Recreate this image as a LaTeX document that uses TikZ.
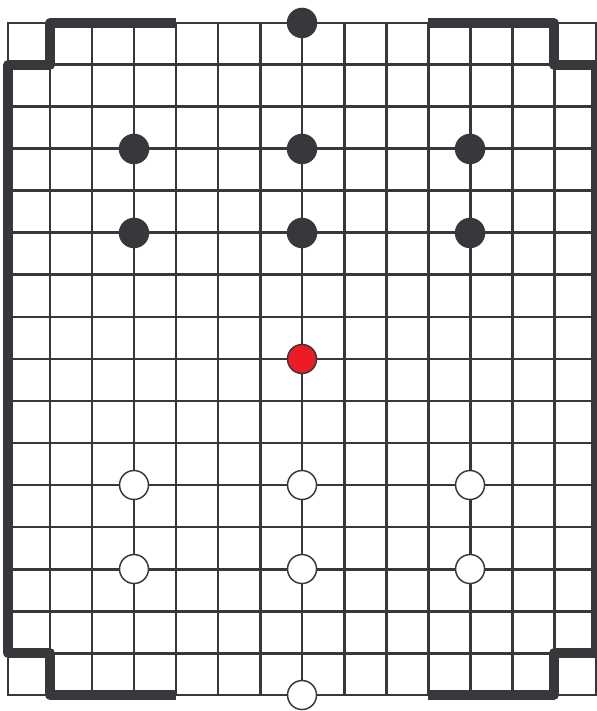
\documentclass[tikz,border=0pt]{standalone}
\definecolor{ink}{HTML}{38373C}
\definecolor{redstone}{HTML}{ED1C24}
\begin{document}
\begin{tikzpicture}[x=1cm,y=-1cm,
  gridline/.style={draw=ink,line width=2.0pt},
  edgeline/.style={draw=ink,line width=1.1pt},
  midline/.style={draw=ink,line width=1.5pt},
  wall/.style={draw=ink,line width=6.3pt,line join=round},
  stone/.style={circle,inner sep=0pt,minimum size=0.69cm,draw=ink,line width=1pt},
  blackstone/.style={stone,fill=ink},
  whitestone/.style={stone,fill=white},
  redst/.style={stone,fill=redstone}]
\useasboundingbox (-0.19,-0.546) rectangle (14.01,16.38);
% grid
\foreach \i in {1,...,6,8,9,...,13} \draw[gridline] (\i,0) -- (\i,16);
\draw[midline] (7,0) -- (7,16);
\foreach \j in {1,...,15} \draw[gridline] (0,\j) -- (14,\j);
\draw[edgeline] (0,0) rectangle (14,16);
% walls
\draw[wall] (4,0) -- (1,0) -- (1,1) -- (0,1) -- (0,15) -- (1,15) -- (1,16) -- (4,16);
\draw[wall] (10,0) -- (13,0) -- (13,1) -- (14,1) -- (14,15) -- (13,15) -- (13,16) -- (10,16);
% black stones
\node[blackstone] (b0) at (7,0) {};
\node[blackstone] (b1) at (3,3) {};
\node[blackstone] (b2) at (7,3) {};
\node[blackstone] (b3) at (11,3) {};
\node[blackstone] (b4) at (3,5) {};
\node[blackstone] (b5) at (7,5) {};
\node[blackstone] (b6) at (11,5) {};
% red stone
\node[redst] (r0) at (7,8) {};
% white stones
\node[whitestone] (w1) at (3,11) {};
\node[whitestone] (w2) at (7,11) {};
\node[whitestone] (w3) at (11,11) {};
\node[whitestone] (w4) at (3,13) {};
\node[whitestone] (w5) at (7,13) {};
\node[whitestone] (w6) at (11,13) {};
\node[whitestone] (w0) at (7,16) {};
\end{tikzpicture}
\end{document}
